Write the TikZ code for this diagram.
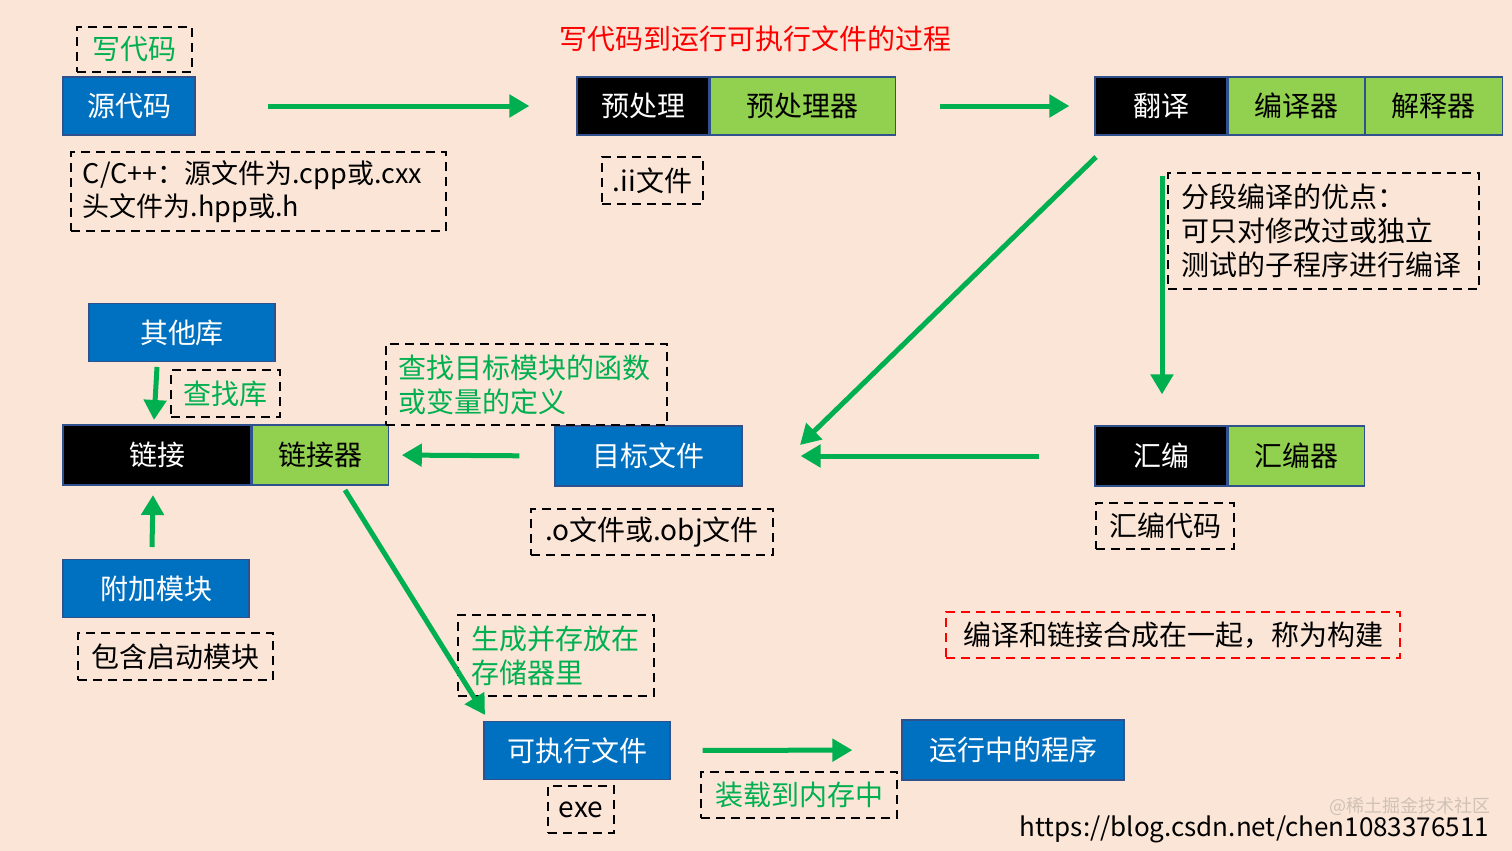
\documentclass[tikz,border=0pt]{standalone}
\usepackage{fontspec}
\setmainfont{Noto Sans CJK SC}
\usetikzlibrary{arrows.meta,positioning}
\definecolor{bgpeach}{HTML}{FBE5D6}
\definecolor{boxblue}{HTML}{0070C0}
\definecolor{boxgreen}{HTML}{92D050}
\definecolor{edgeblue}{HTML}{2F528F}
\definecolor{arrowgreen}{HTML}{00B050}
\definecolor{titlered}{HTML}{FF0000}

\begin{document}
\begin{tikzpicture}[x=0.5pt,y=-0.5pt,
  box/.style={minimum height=29pt, inner sep=0pt, draw=edgeblue, line width=0.6pt,
    font=\fontsize{14pt}{17pt}\selectfont},
  bluebox/.style={box, fill=boxblue, text=white},
  blackbox/.style={box, fill=black, text=white},
  greenbox/.style={box, fill=boxgreen, text=black},
  note/.style={draw=black, line width=1.2pt, dash pattern=on 4.5pt off 3pt, inner sep=0pt,
    minimum height=23.5pt, font=\fontsize{14pt}{17pt}\selectfont},
  longnote/.style={note, align=left, inner xsep=6pt},
  arr/.style={draw=arrowgreen, line width=2.5pt, -{Triangle[length=10pt,width=11pt]}}
]
 % background
 \fill[bgpeach] (0,0) rectangle (1512,851);
 \useasboundingbox (0,0) rectangle (1512,851);

 \node (title) [text=titlered, font=\fontsize{14pt}{17pt}\selectfont] at (755,39) {写代码到运行可执行文件的过程};

 % first row
 \node (src) [bluebox, minimum width=66pt] at (129,106) {源代码};
 \node (pre) [blackbox, minimum width=66pt] at (643,106) {预处理};
 \node (preR) [greenbox, minimum width=92.5pt, right=0pt of pre] {预处理器};
 \node (trans) [blackbox, minimum width=66pt] at (1161,106) {翻译};
 \node (comp) [greenbox, minimum width=68pt, right=0pt of trans] {编译器};
 \node (interp) [greenbox, minimum width=68.5pt, right=0pt of comp] {解释器};

 % second row
 \node (asm) [blackbox, minimum width=66pt, minimum height=30pt] at (1161,456) {汇编};
 \node (asmR) [greenbox, minimum width=68pt, minimum height=30pt, right=0pt of asm] {汇编器};
 \node (objf) [bluebox, minimum width=93.5pt, minimum height=30pt] at (648.5,456) {目标文件};
 \node (link) [blackbox, minimum width=94pt, minimum height=30pt] at (157,455) {链接};
 \node (linkR) [greenbox, minimum width=68pt, minimum height=30pt, right=0pt of link] {链接器};
 \node (libs) [bluebox, minimum width=93pt] at (182,332.5) {其他库};
 \node (addmod) [bluebox, minimum width=93pt] at (156,588.5) {附加模块};

 % last row
 \node (exe) [bluebox, minimum width=93pt] at (577,750.5) {可执行文件};
 \node (run) [bluebox, minimum width=111pt, minimum height=30pt] at (1013,750) {运行中的程序};

 % notes
 \node (nWrite) [note, text=arrowgreen, minimum width=57.5pt, minimum height=22.5pt] at (134.5,49.5) {写代码};
 \node (nSrc) [longnote, text width=175.5pt, minimum height=39.5pt,
   font=\fontsize{13.5pt}{16.5pt}\selectfont] at (258.5,191.5) {C/C++：源文件为.cpp或.cxx\\头文件为.hpp或.h};
 \node (nII) [note, minimum width=50.5pt] at (652.5,180.5) {.ii文件};
 \node (nSeg) [longnote, text width=142pt, inner xsep=6.75pt, minimum height=58pt] at (1323.5,231)
   {分段编译的优点：\\可只对修改过或独立\\测试的子程序进行编译};
 \node (nAsm) [note, minimum width=69pt, minimum height=23pt] at (1165,526) {汇编代码};
 \node (nObj) [note, minimum width=121pt, minimum height=23pt] at (652,532) {.o文件或.obj文件};
 \node (nFind) [longnote, text=arrowgreen, text width=128.5pt, minimum height=40.5pt] at (526.5,384.5)
   {查找目标模块的函数\\或变量的定义};
 \node (nLib) [note, text=arrowgreen, minimum width=54.5pt] at (225.5,393.5) {查找库};
 \node (nBoot) [note, minimum width=97.5pt] at (175.5,656.5) {包含启动模块};
 \node (nStore) [longnote, text=arrowgreen, text width=85pt, inner xsep=6.5pt, minimum height=40.5pt] at (556,655.5)
   {生成并存放在\\存储器里};
 \node (nExe) [note, minimum width=33pt] at (581,809.5) {exe};
 \node (nLoad) [note, text=arrowgreen, minimum width=98pt, minimum height=23pt] at (799,795) {装载到内存中};
 \node (nBuild) [note, draw=titlered, minimum width=227pt, minimum height=23pt] at (1173,635) {编译和链接合成在一起，称为构建};

 % free arrow ends
 \coordinate (transOut) at (1096,157);
 \coordinate (objIn) at (800,445);
 \coordinate (libOut) at (157,367);
 \coordinate (linkTop) at (154,420);
 \coordinate (addOut) at (152,547);
 \coordinate (linkBot) at (153,495);
 \coordinate (linkOut) at (345,490);
 \coordinate (exeIn) at (485,715);

 % arrows
 \draw[arr, shorten <=36pt, shorten >=23.5pt] (src.east) -- (pre.west);
 \draw[arr, shorten <=22pt, shorten >=12.5pt] (preR.east) -- (trans.west);
 \draw[arr] (transOut) -- (objIn);
 \draw[arr, shorten <=20pt, shorten >=15.5pt] ([xshift=0.5pt]trans.south) -- ([xshift=0.5pt]asm.north);
 \draw[arr, shorten <=27.5pt, shorten >=29pt] (asm.west) -- (objf.east);
 \draw[arr, shorten <=17.5pt, shorten >=6.5pt] (objf.west) -- (linkR.east);
 \draw[arr] (libOut) -- (linkTop);
 \draw[arr] (addOut) -- (linkBot);
 \draw[arr] (linkOut) -- (exeIn);
 \draw[arr, shorten <=16pt, shorten >=24.5pt] (exe.east) -- (run.west);

 % footer
 \node (mark) [text=gray, opacity=0.35, font=\fontsize{9pt}{10pt}\selectfont] at (1410,806) {@稀土掘金技术社区};
 \node (url) [anchor=east, font=\fontsize{13pt}{16pt}\selectfont] at (1496,829) {https://blog.csdn.net/chen1083376511};
\end{tikzpicture}
\end{document}
